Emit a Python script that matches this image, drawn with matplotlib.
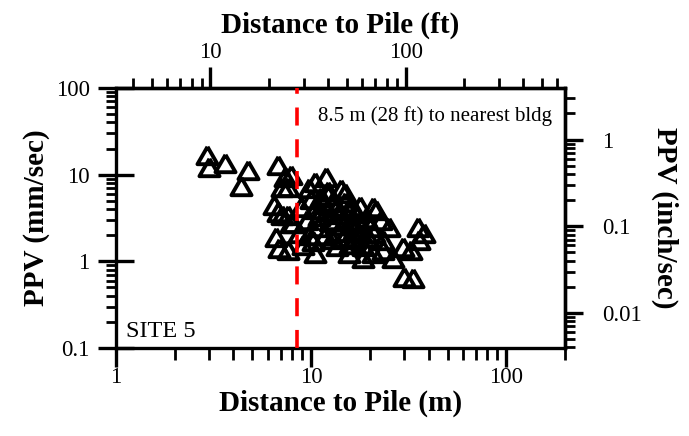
import matplotlib
matplotlib.use("Agg")
import matplotlib.pyplot as plt
from matplotlib.ticker import LogLocator, FuncFormatter, NullFormatter, FixedLocator
import numpy as np

plt.rcParams['font.family'] = ['Liberation Serif', 'DejaVu Serif']

# Data: distance (m) and PPV (mm/sec)
dist_m = [2.94, 3.01, 3.63, 4.77, 4.39, 6.73, 7.39, 7.13, 6.49, 6.73, 7.13, 6.57, 6.81, 7.85,
          7.85, 7.57, 11.9, 10.5, 9.71, 12.2, 15.0, 20.7, 7.57, 8.03, 8.83, 8.62, 7.57, 10.5,
          9.04, 15.6, 18.4, 20.7, 21.5, 22.8, 25.0, 35.3, 37.9, 35.7, 29.5, 32.5, 23.3, 26.2,
          29.9, 33.3, 23.3,
          10.0, 10.5, 11.0, 11.5, 12.0, 12.5, 13.0, 13.5, 14.0, 14.5, 15.0, 15.5, 16.0, 16.5,
          17.0, 17.5, 18.0, 19.0, 20.0, 10.8, 11.8, 12.8, 13.8, 14.8, 15.8, 16.8, 18.5, 9.5,
          9.8, 12.2, 14.2, 13.3, 15.2, 16.2, 11.2, 17.8, 19.5, 21.0, 10.2, 13.6]
ppv_mm = [16.8, 12.2, 13.6, 11.3, 7.39, 12.9, 9.38, 7.19, 4.46, 3.70, 3.42, 1.91, 1.42, 2.77,
          9.9, 7.19, 9.38, 8.2, 7.0, 5.82, 6.13, 4.23, 3.42, 2.77, 4.23, 2.12, 1.35, 1.25,
          1.54, 1.25, 1.09, 1.25, 3.91, 2.99, 2.49, 2.49, 2.12, 1.76, 1.46, 1.35, 1.35, 1.09,
          0.66, 0.65, 1.76,
          5.2, 4.0, 3.3, 4.6, 3.8, 2.9, 5.0, 4.2, 3.5, 2.6, 4.8, 3.9, 3.0, 2.3,
          3.6, 2.8, 2.1, 3.2, 2.5, 2.5, 2.0, 1.8, 2.2, 1.9, 1.6, 1.8, 1.5, 3.0,
          2.0, 6.5, 6.8, 3.0, 2.2, 4.1, 5.5, 4.4, 1.9, 2.1, 1.7, 1.5]

bldg_dist_m = 8.5
xlim = (1, 200)
ylim = (0.1, 100)
x_ticks = [1, 10, 100]
y_ticks = [0.1, 1, 10, 100]
ft_ticks = [10, 100]
in_ticks = [0.01, 0.1, 1]

M2FT = 3.28084
MM2IN = 1 / 25.4

fig = plt.figure(figsize=(6.89, 4.36), dpi=100)
ax = fig.add_axes([116/689, 1 - 348/436, (565-116)/689, (348-88)/436])

tri = [(0, 0.866), (-1, -0.866), (1, -0.866), (0, 0.866)]
ax.plot(dist_m, ppv_mm, linestyle='none', marker=tri, markersize=14.5,
        markerfacecolor='none', markeredgecolor='black', markeredgewidth=2.8, zorder=3)

ax.axvline(bldg_dist_m, color='#ff0000', lw=2.6, dashes=(5.0, 3.8), zorder=4)
ax.text(10.8, 48, '8.5 m (28 ft) to nearest bldg', fontsize=15, va='center', ha='left')
ax.text(1.12, 0.155, 'SITE 5', fontsize=17.5, va='center', ha='left')

ax.set_xscale('log')
ax.set_yscale('log')
ax.set_xlim(*xlim)
ax.set_ylim(*ylim)

fmt = FuncFormatter(lambda v, p: '%g' % v)
ax.xaxis.set_major_locator(FixedLocator(x_ticks))
ax.yaxis.set_major_locator(FixedLocator(y_ticks))
ax.xaxis.set_minor_locator(LogLocator(base=10, subs=np.arange(2, 10), numticks=20))
ax.yaxis.set_minor_locator(LogLocator(base=10, subs=np.arange(2, 10), numticks=20))
ax.xaxis.set_major_formatter(fmt)
ax.yaxis.set_major_formatter(fmt)
ax.xaxis.set_minor_formatter(NullFormatter())
ax.yaxis.set_minor_formatter(NullFormatter())

for s in ax.spines.values():
    s.set_linewidth(2.4)

ax.tick_params(axis='x', which='major', direction='out', length=14, width=2.4, labelsize=16.5, pad=0)
ax.tick_params(axis='x', which='minor', direction='out', length=8.5, width=2.0)
ax.tick_params(axis='y', which='major', direction='inout', length=26, width=2.4, labelsize=16.5, pad=6)
ax.tick_params(axis='y', which='minor', direction='out', length=7.5, width=2.0)

ax.set_xlabel('Distance to Pile (m)', fontsize=21, fontweight='bold', labelpad=1)
ax.set_ylabel('PPV (mm/sec)', fontsize=21, fontweight='bold', labelpad=4)

secx = ax.secondary_xaxis('top', functions=(lambda x: x * M2FT, lambda x: x / M2FT))
secx.xaxis.set_major_locator(FixedLocator(ft_ticks))
secx.xaxis.set_minor_locator(LogLocator(base=10, subs=np.arange(2, 10), numticks=20))
secx.xaxis.set_major_formatter(fmt)
secx.xaxis.set_minor_formatter(NullFormatter())
secx.tick_params(axis='x', which='major', direction='out', length=15, width=2.4, labelsize=16.5, pad=3)
secx.tick_params(axis='x', which='minor', direction='out', length=7.5, width=2.0)
secx.set_xlabel('Distance to Pile (ft)', fontsize=21, fontweight='bold', labelpad=7)
secx.spines['top'].set_linewidth(2.4)

secy = ax.secondary_yaxis('right', functions=(lambda y: y * MM2IN, lambda y: y / MM2IN))
secy.yaxis.set_major_locator(FixedLocator(in_ticks))
secy.yaxis.set_minor_locator(LogLocator(base=10, subs=np.arange(2, 10), numticks=20))
secy.yaxis.set_major_formatter(fmt)
secy.yaxis.set_minor_formatter(NullFormatter())
secy.tick_params(axis='y', which='major', direction='out', length=13, width=2.4, labelsize=16.5, pad=14)
secy.tick_params(axis='y', which='minor', direction='out', length=7.5, width=2.0)
secy.set_ylabel('PPV (inch/sec)', fontsize=21, fontweight='bold', rotation=270, labelpad=26)
secy.spines['right'].set_linewidth(2.4)

fig.savefig('out.png', dpi=100)
